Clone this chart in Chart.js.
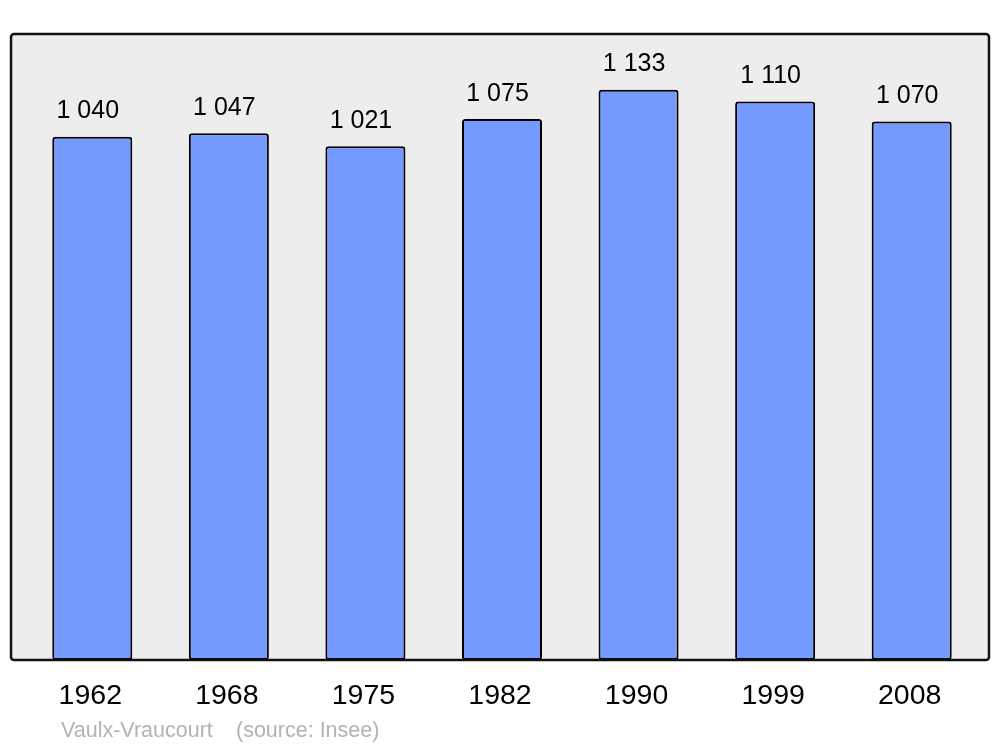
<!DOCTYPE html>
<html>
<head>
<meta charset="utf-8">
<script src="https://cdn.jsdelivr.net/npm/chart.js@4"></script>
<style>
html,body{margin:0;padding:0;background:#fff;}
canvas{display:block;}
</style>
</head>
<body>
<canvas id="c" width="1000" height="747"></canvas>
<script>
const years = ['1962','1968','1975','1982','1990','1999','2008'];
const population = [1040, 1047, 1021, 1075, 1133, 1110, 1070];
const townName = 'Vaulx-Vraucourt';
const sourceText = '(source: Insee)';

function fmt(v){ return String(v).replace(/\B(?=(\d{3})+(?!\d))/g, ' '); }

function roundRect(ctx, x, y, w, h, r){
  ctx.beginPath();
  ctx.moveTo(x+r, y);
  ctx.lineTo(x+w-r, y);
  ctx.arcTo(x+w, y, x+w, y+r, r);
  ctx.lineTo(x+w, y+h-r);
  ctx.arcTo(x+w, y+h, x+w-r, y+h, r);
  ctx.lineTo(x+r, y+h);
  ctx.arcTo(x, y+h, x, y+h-r, r);
  ctx.lineTo(x, y+r);
  ctx.arcTo(x, y, x+r, y, r);
  ctx.closePath();
}

const framePlugin = {
  id: 'frame',
  beforeDatasetsDraw(chart){
    const {ctx, chartArea:a} = chart;
    ctx.save();
    roundRect(ctx, a.left-13, a.top, (a.right+9)-(a.left-13), a.bottom-a.top, 3);
    ctx.fillStyle = '#ededed';
    ctx.fill();
    ctx.restore();
  },
  afterDatasetsDraw(chart){
    const {ctx, chartArea:a} = chart;
    ctx.save();
    roundRect(ctx, a.left-13, a.top, (a.right+9)-(a.left-13), a.bottom-a.top, 3);
    ctx.lineWidth = 2.5;
    ctx.strokeStyle = '#111';
    ctx.stroke();
    // value labels
    const meta = chart.getDatasetMeta(0);
    ctx.fillStyle = '#000';
    ctx.font = '25px "Liberation Sans", Arial, sans-serif';
    ctx.textAlign = 'center';
    ctx.textBaseline = 'alphabetic';
    meta.data.forEach((el, i) => {
      ctx.fillText(fmt(population[i]), el.x - 4.5, el.y - 18.5);
    });
    // source
    ctx.fillStyle = '#b3b3b3';
    ctx.font = '21.5px "Liberation Sans", Arial, sans-serif';
    ctx.textAlign = 'left';
    ctx.fillText(townName, 61, 737);
    ctx.fillText(sourceText, 236, 737);
    ctx.restore();
  }
};

new Chart(document.getElementById('c'), {
  type: 'bar',
  data: {
    labels: years,
    datasets: [{
      data: population,
      backgroundColor: '#7499ff',
      borderColor: '#000',
      borderWidth: 2,
      borderRadius: 3,
      borderSkipped: false,
      barPercentage: 0.586,
      categoryPercentage: 1.0
    }]
  },
  options: {
    responsive: false,
    animation: false,
    devicePixelRatio: 1,
    layout: { padding: { left: 24, right: 20, top: 34, bottom: 0 } },
    plugins: { legend: { display: false }, tooltip: { enabled: false } },
    scales: {
      x: {
        grid: { display: false, drawTicks: false },
        border: { display: false },
        ticks: {
          color: '#000',
          font: { family: '"Liberation Sans", Arial, sans-serif', size: 28.5 },
          padding: 19,
          labelOffset: -2,
          maxRotation: 0
        },
        afterFit(scale){ scale.height = 87; }
      },
      y: {
        display: false,
        min: 0,
        max: 1244
      }
    }
  },
  plugins: [framePlugin]
});
</script>
</body>
</html>
